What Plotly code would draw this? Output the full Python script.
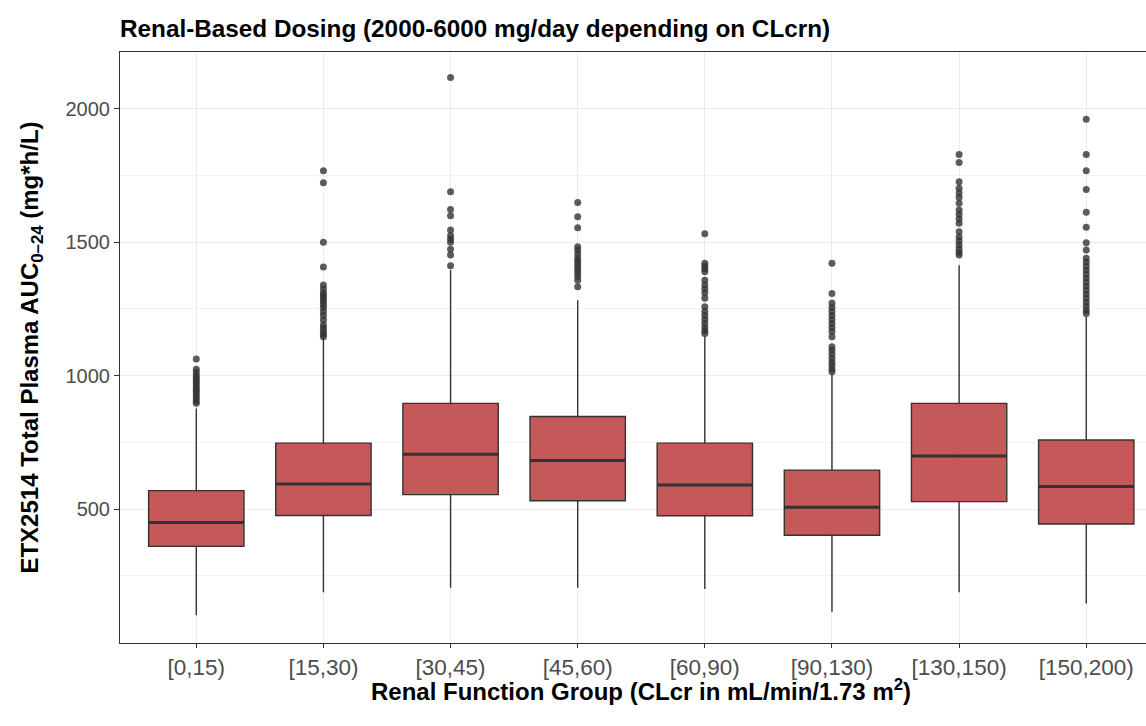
import plotly.graph_objects as go

# Renal function groups (CLcr, mL/min/1.73 m^2)
groups = ["[0,15)", "[15,30)", "[30,45)", "[45,60)", "[60,90)", "[90,130)", "[130,150)", "[150,200)"]

# Box statistics per group (AUC0-24, mg*h/L)
q1 = [360, 476, 554, 531, 475, 402, 528, 444]
median = [450, 594, 705, 682, 590, 507, 699, 585]
q3 = [569, 747, 896, 847, 747, 646, 896, 759]
lower_whisker = [102, 188, 205, 205, 200, 115, 188, 146]
upper_whisker = [877, 1140, 1396, 1283, 1148, 1005, 1414, 1221]

# Outlying simulated subjects per group
outliers = [
    [1062, 1024, 1012, 1000, 990, 980, 972, 962, 952, 944, 935, 925, 915, 905, 897],
    [1768, 1723, 1500, 1407, 1340, 1325, 1310, 1300, 1290, 1280, 1268, 1255, 1240, 1225, 1209,
     1190, 1178, 1165, 1155, 1146],
    [2117, 1689, 1623, 1599, 1546, 1524, 1511, 1500, 1474, 1452, 1412],
    [1649, 1596, 1554, 1483, 1471, 1456, 1441, 1430, 1418, 1408, 1396, 1385, 1372, 1358, 1333],
    [1532, 1421, 1410, 1400, 1389, 1358, 1340, 1325, 1310, 1290, 1258, 1240, 1225, 1210, 1195,
     1180, 1168, 1158],
    [1421, 1308, 1272, 1255, 1240, 1225, 1210, 1195, 1180, 1165, 1146, 1108, 1095, 1080, 1065,
     1050, 1038, 1025, 1015],
    [1829, 1799, 1727, 1702, 1685, 1668, 1646, 1621, 1605, 1588, 1571, 1539, 1520, 1505, 1490,
     1475, 1462, 1452],
    [1961, 1829, 1768, 1698, 1612, 1556, 1498, 1471, 1440, 1425, 1410, 1395, 1380, 1365, 1350,
     1335, 1320, 1305, 1290, 1275, 1260, 1245, 1233],
]

BOX_WIDTH = 0.75
FILL = "rgba(178,34,34,0.75)"
EDGE = "#333333"
FONT = "Liberation Sans, Arial, sans-serif"

xpos = list(range(len(groups)))

fig = go.Figure()

for i in xpos:
    # outlier points, drawn first so boxes sit on top
    fig.add_trace(go.Scatter(
        x=[i] * len(outliers[i]), y=outliers[i], mode="markers",
        marker=dict(size=7, color="rgba(51,51,51,0.8)", line=dict(width=0)),
        showlegend=False, hoverinfo="y",
    ))

fig.add_trace(go.Box(
    x=xpos, q1=q1, median=median, q3=q3,
    lowerfence=lower_whisker, upperfence=upper_whisker,
    width=BOX_WIDTH, whiskerwidth=0, boxpoints=False,
    fillcolor=FILL, line=dict(color=EDGE, width=1.4),
    showlegend=False,
))

# heavier median bars
for i in xpos:
    fig.add_trace(go.Scatter(
        x=[i - BOX_WIDTH / 2, i + BOX_WIDTH / 2], y=[median[i], median[i]],
        mode="lines", line=dict(color=EDGE, width=3),
        showlegend=False, hoverinfo="skip",
    ))

fig.update_layout(
    width=1146, height=726,
    margin=dict(l=120, r=0, t=52, b=83),
    plot_bgcolor="white", paper_bgcolor="white",
    title=dict(
        text="<b>Renal-Based Dosing (2000-6000 mg/day depending on CLcrn)</b>",
        x=120 / 1146, xanchor="left", xref="container",
        y=1 - 28 / 726, yanchor="middle", yref="container",
        font=dict(family=FONT, size=24.3, color="black"),
    ),
    annotations=[dict(
        text="<b>Renal Function Group (CLcr in mL/min/1.73 m<sup>2</sup>)</b>",
        xref="paper", yref="paper", x=0.5 + 16 / 1026 / 2, y=-47 / 591,
        xanchor="center", yanchor="middle", showarrow=False,
        font=dict(family=FONT, size=24, color="black"),
    )],
)

fig.update_xaxes(
    range=[-0.6, 7.47],
    tickmode="array", tickvals=xpos, ticktext=groups,
    showgrid=True, gridcolor="#EBEBEB", gridwidth=1,
    showline=True, linecolor="#333333", linewidth=1, mirror=True,
    ticks="outside", ticklen=4, tickcolor="#333333",
    tickfont=dict(family=FONT, size=22.5, color="#4D4D4D"),
    zeroline=False,
)

fig.update_yaxes(
    range=[-2, 2213],
    tickvals=[500, 1000, 1500, 2000],
    showgrid=True, gridcolor="#EBEBEB", gridwidth=1,
    minor=dict(tickvals=[250, 750, 1250, 1750], showgrid=True, gridcolor="#F3F3F3", gridwidth=1),
    showline=True, linecolor="#333333", linewidth=1, mirror=False,
    ticks="outside", ticklen=5, tickcolor="#333333",
    tickfont=dict(family=FONT, size=20, color="#4D4D4D"),
    title=dict(text="<b>ETX2514 Total Plasma AUC<sub>0\u201324</sub> (mg*h/L)</b>",
               font=dict(family=FONT, size=24, color="black"), standoff=20),
    zeroline=False,
)

fig.write_html("out.html")
